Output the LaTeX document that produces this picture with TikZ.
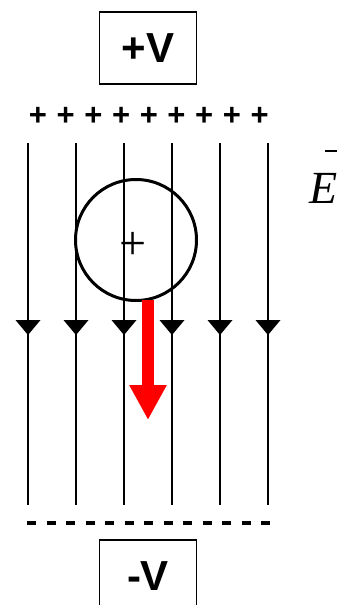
\documentclass[tikz,border=0pt]{standalone}
\usepackage{fontspec}
\setmainfont{Liberation Sans}
\newfontfamily\serifit{Liberation Serif}
\usetikzlibrary{arrows.meta}

\tikzset{
  platebox/.style={draw, line width=1.5pt, minimum width=97pt, minimum height=72pt, font=\fontsize{42}{42}\selectfont\bfseries},
  fieldline/.style={line width=1.6pt},
}

\begin{document}
\begin{tikzpicture}[x=1pt, y=-1pt]
  \useasboundingbox (0,0) rectangle (337,605);
  \clip (0,0) rectangle (337,605);

  % plates
  \node[platebox] (plus) at (148,48) {+V};
  \node[platebox] (minus) at (148,576) {-V};

  % charges on the plates
  \foreach \x in {38,65.7,93.4,121.1,148.8,176.5,204.2,231.9,259.6}
    \node[font=\fontsize{31}{31}\selectfont\bfseries, inner sep=0] at (\x,116) {+};
  \draw[line width=4pt, dash pattern=on 9pt off 10.5pt] (27,523) -- (272,523);

  % field lines
  \foreach \x in {28,76,124,172,220,268} {
    \draw[fieldline] (\x,143) -- (\x,505);
    \fill (\x-12.5,320) -- (\x+12.5,320) -- (\x,335) -- cycle;
  }

  % charge
  \node[circle, draw, line width=3pt, minimum size=121pt, inner sep=0] (charge) at (136,240) {};
  \node[font=\serifit\fontsize{48}{48}\selectfont, inner sep=0] (sign) at (133,246) {+};
  \draw[red, line width=12pt, -{Triangle[length=35pt, width=35pt]}] (148,300) -- (148,420);

  % field label
  \node[font=\serifit\itshape\fontsize{46}{46}\selectfont, anchor=west, inner sep=0] (field) at (309,188) {E};
  \draw[line width=1.2pt] (325,151) -- (338,151);
\end{tikzpicture}
\end{document}
